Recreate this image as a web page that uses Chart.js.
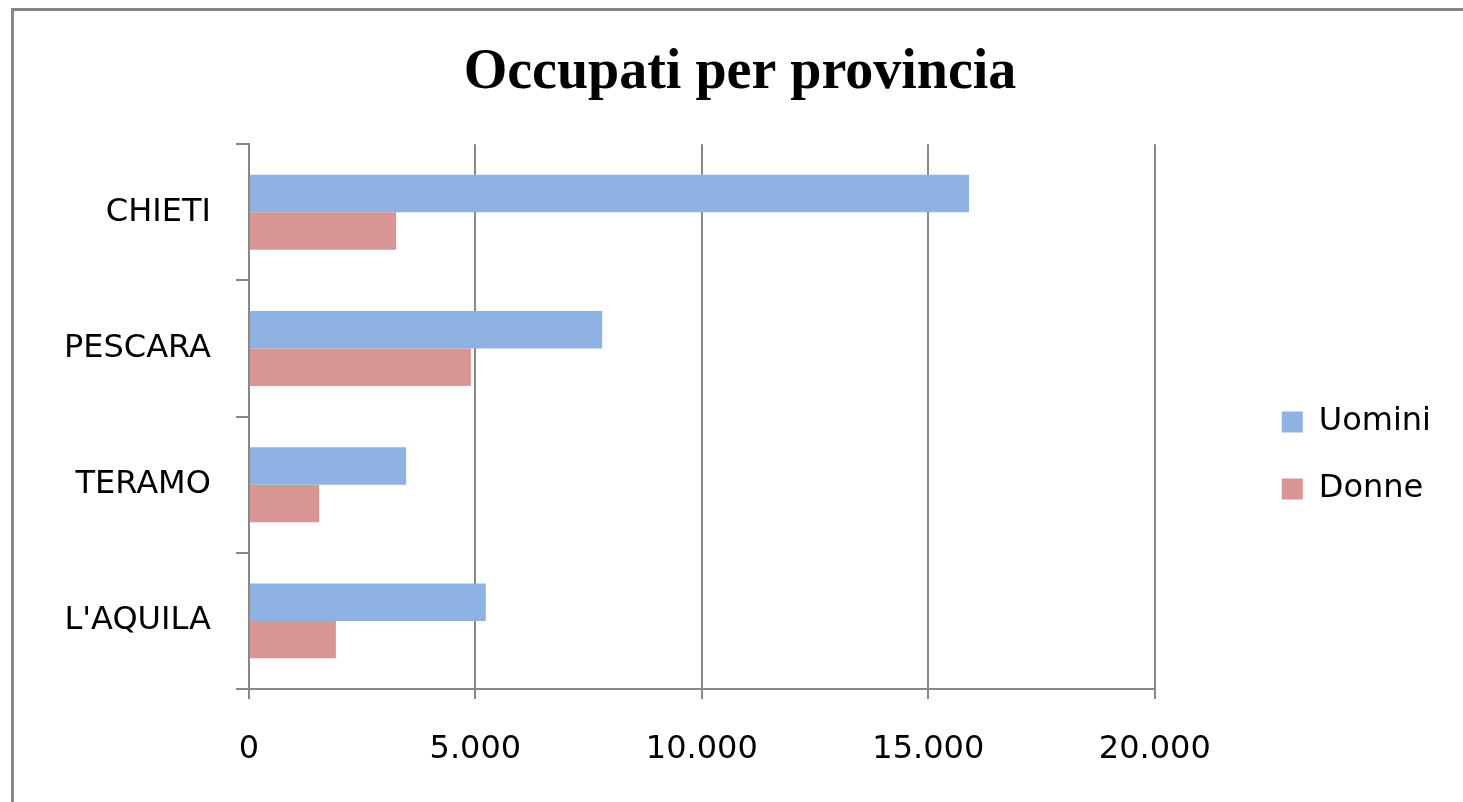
<!DOCTYPE html>
<html lang="it">
<head>
<meta charset="utf-8">
<title>Occupati per provincia</title>
<script src="https://cdn.jsdelivr.net/npm/chart.js@4/dist/chart.umd.min.js"></script>
<style>
  html, body { margin: 0; padding: 0; background: #fff; overflow: hidden; }
  #frame {
    position: absolute; left: 11px; top: 8px;
    width: 2000px; height: 2000px;
    border: 3px solid #878787;
  }
  #wrap { position: absolute; left: 0; top: 0; width: 1463px; height: 802px; }
</style>
</head>
<body>
<div id="frame"></div>
<div id="wrap"><canvas id="chart"></canvas></div>
<script>
// --- dati ---
const province = ['CHIETI', 'PESCARA', 'TERAMO', "L'AQUILA"];
const uomini = [15900, 7800, 3470, 5230];
const donne = [3250, 4900, 1550, 1920];
const xTicks = [0, 5000, 10000, 15000, 20000];

const gridColor = '#878787';
const labelFont = { family: 'DejaVu Sans', size: 32 };

// separatore delle migliaia all'italiana
function formatNum(v) {
    return String(v).replace(/\B(?=(\d{3})+(?!\d))/g, '.');
}

new Chart(document.getElementById('chart'), {
    type: 'bar',
    data: {
        labels: province,
        datasets: [
            { label: 'Uomini', data: uomini, backgroundColor: '#8EB3E3' },
            { label: 'Donne', data: donne, backgroundColor: '#D99594' }
        ]
    },
    options: {
        indexAxis: 'y',
        responsive: true,
        maintainAspectRatio: false,
        animation: false,
        categoryPercentage: 0.55,
        barPercentage: 1.0,
        layout: { padding: { left: 39, right: 22, top: 0, bottom: 2.6 } },
        scales: {
            x: {
                min: xTicks[0],
                max: xTicks[xTicks.length - 1],
                afterBuildTicks: s => { s.ticks = xTicks.map(v => ({ value: v })); },
                grid: { color: gridColor, lineWidth: 2, tickLength: 10 },
                border: { color: gridColor, width: 2 },
                ticks: { color: '#000', font: labelFont, padding: 31, callback: v => formatNum(v) }
            },
            y: {
                grid: { color: gridColor, lineWidth: 2, drawOnChartArea: false, tickLength: 13 },
                border: { color: gridColor, width: 2 },
                ticks: { color: '#000', font: labelFont, padding: 25 }
            },
            // spazio vuoto fra area del grafico e legenda
            gap: {
                type: 'linear',
                position: 'right',
                display: true,
                grid: { display: false },
                border: { display: false },
                ticks: { display: false },
                afterFit: s => { s.width = 92; }
            }
        },
        plugins: {
            title: {
                display: true,
                text: 'Occupati per provincia',
                color: '#000',
                font: { family: 'Liberation Serif', size: 56, weight: 'bold' },
                padding: { top: 40, bottom: 37 }
            },
            legend: {
                position: 'right',
                fullSize: false,
                title: { display: true, text: ' ', font: { size: 10 }, padding: 33 },
                labels: {
                    color: '#000',
                    font: labelFont,
                    boxWidth: 21,
                    boxHeight: 21,
                    padding: 35
                }
            },
            tooltip: { enabled: false }
        }
    }
});
</script>
</body>
</html>
